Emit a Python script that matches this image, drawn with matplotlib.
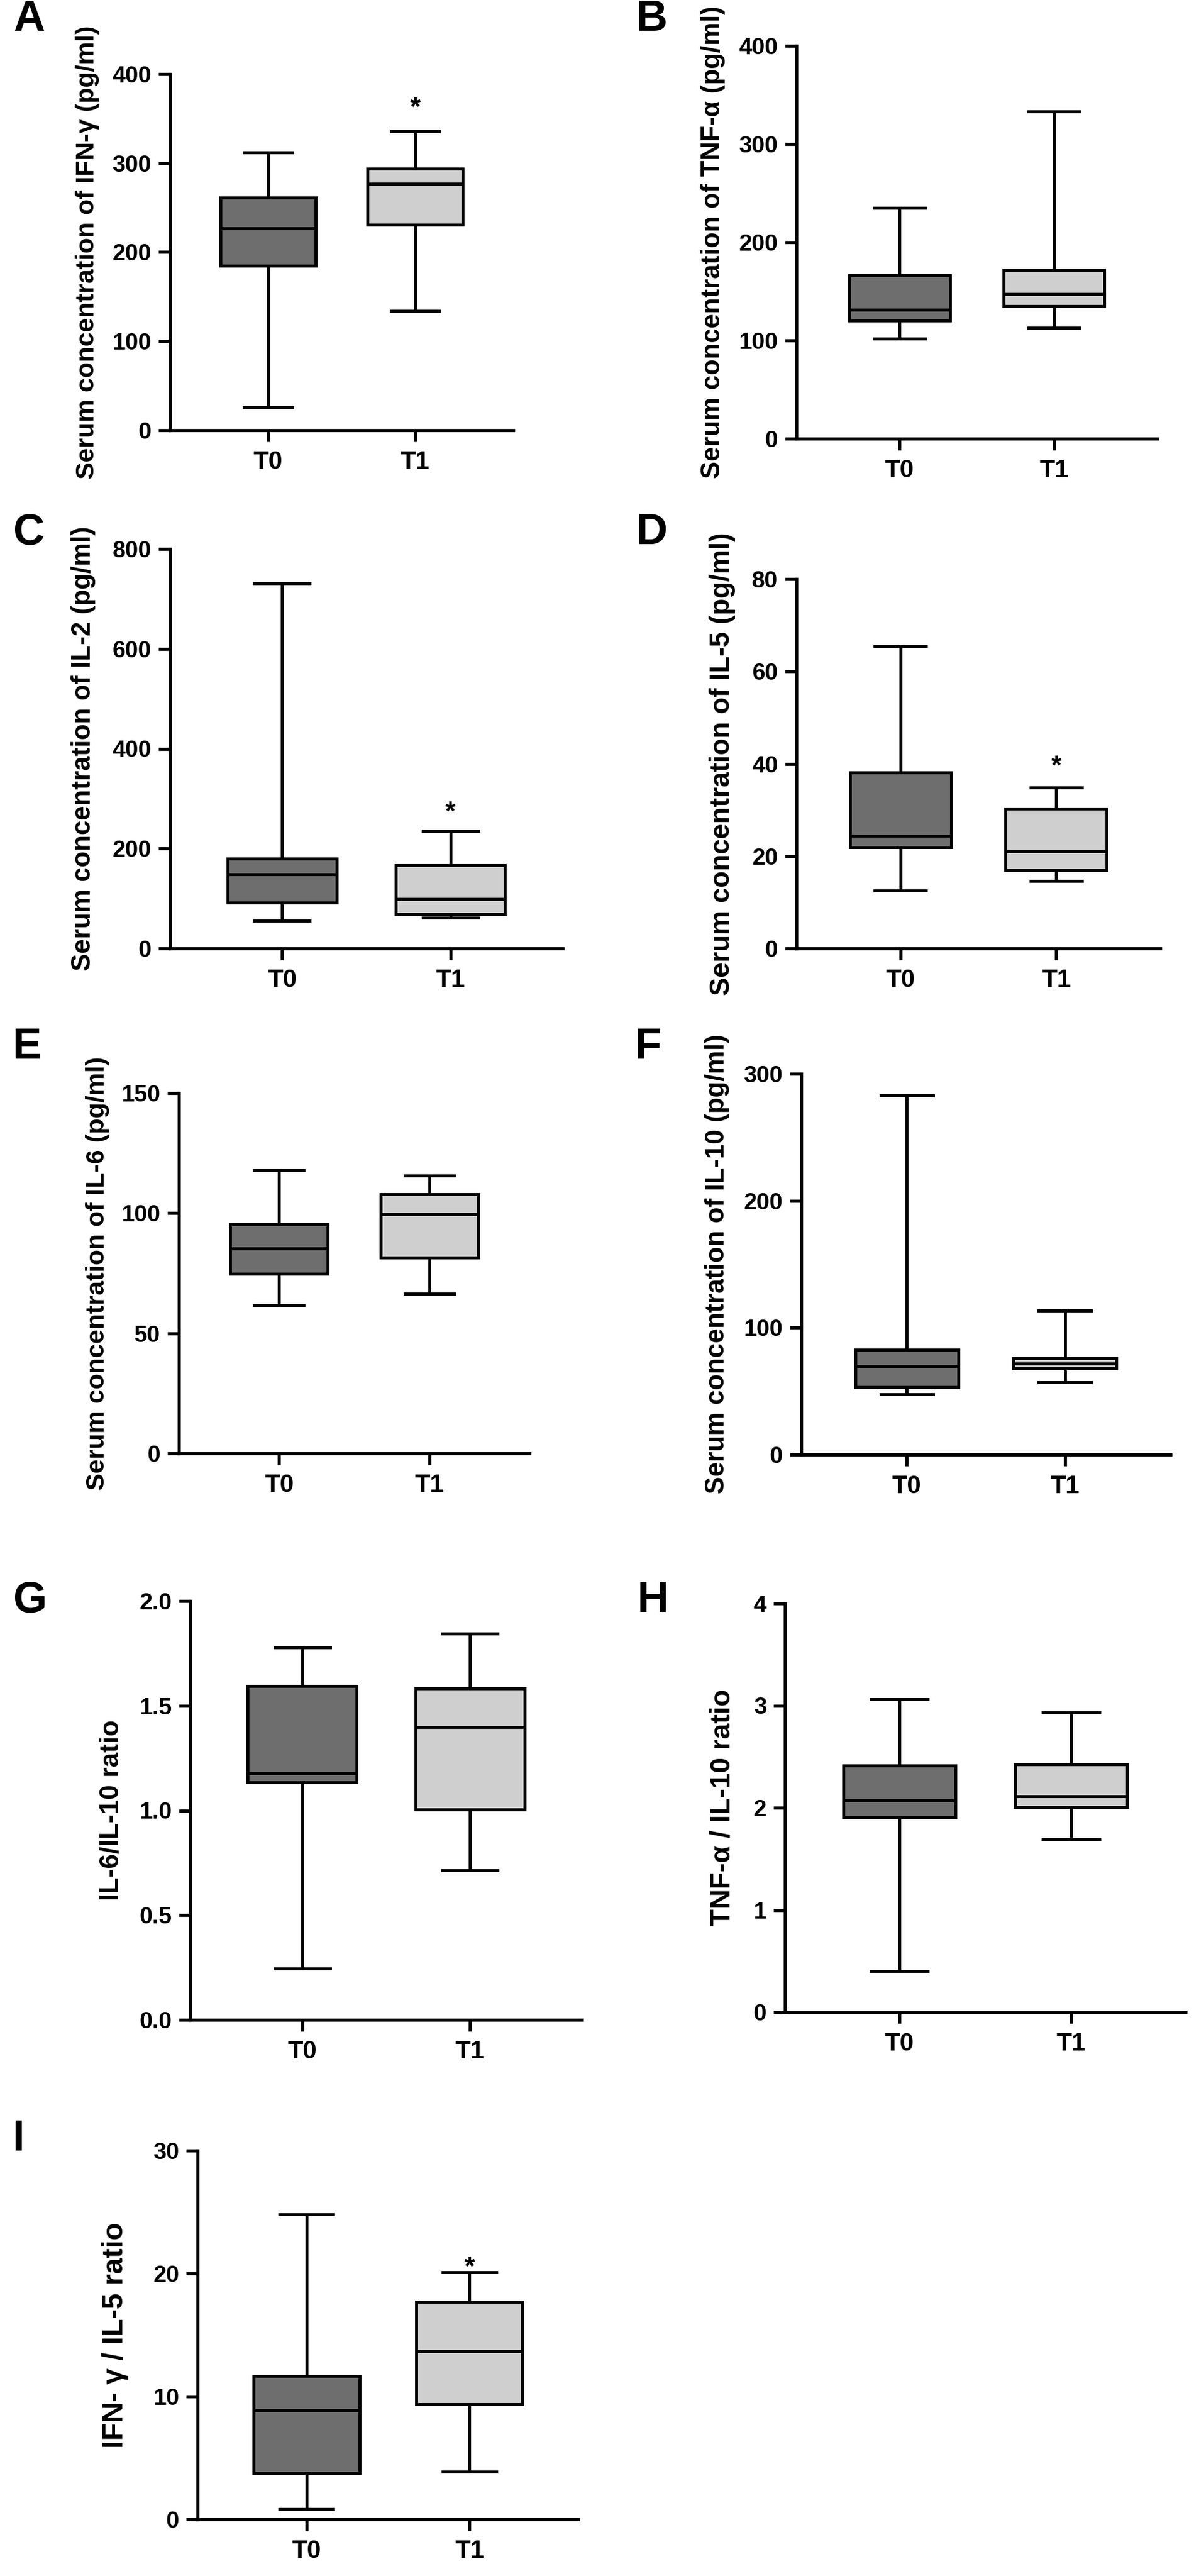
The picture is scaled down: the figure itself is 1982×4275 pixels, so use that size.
import matplotlib
matplotlib.use("Agg")
import matplotlib.pyplot as plt
from matplotlib.ticker import FormatStrFormatter
from matplotlib.transforms import offset_copy

plt.rcParams['font.family'] = ['Liberation Sans', 'DejaVu Sans']
plt.rcParams['font.weight'] = 'bold'

# ---------------- data (five-number summaries: whislo, q1, med, q3, whishi) -------------
groups = ["T0", "T1"]
panel_letters = ["A", "B", "C", "D", "E", "F", "G", "H", "I"]
ylabels = [
    "Serum concentration of IFN-γ (pg/ml)",
    "Serum concentration of TNF-α (pg/ml)",
    "Serum concentration of IL-2 (pg/ml)",
    "Serum concentration of IL-5 (pg/ml)",
    "Serum concentration of IL-6 (pg/ml)",
    "Serum concentration of IL-10 (pg/ml)",
    "IL-6/IL-10 ratio",
    "TNF-α / IL-10 ratio",
    "IFN- γ / IL-5 ratio",
]
ifng_t0 = [26, 185, 227, 261, 312]
ifng_t1 = [134, 231, 277, 294, 336]
tnfa_t0 = [102, 120, 131, 166, 235]
tnfa_t1 = [113, 135, 147, 172, 333]
il2_t0 = [55, 92, 148, 180, 731]
il2_t1 = [62, 69, 99, 167, 235]
il5_t0 = [12.5, 21.9, 24.4, 38.1, 65.5]
il5_t1 = [14.6, 17.0, 21.0, 30.3, 34.8]
il6_t0 = [61.8, 74.7, 85.2, 95.3, 118]
il6_t1 = [66.4, 81.5, 99.5, 107.8, 115.6]
il10_t0 = [47.4, 53.1, 69.8, 82.6, 283]
il10_t1 = [57.0, 67.9, 71.7, 76.0, 113.6]
il6_il10_t0 = [0.246, 1.134, 1.176, 1.593, 1.778]
il6_il10_t1 = [0.713, 1.003, 1.399, 1.582, 1.844]
tnfa_il10_t0 = [0.40, 1.907, 2.073, 2.415, 3.064]
tnfa_il10_t1 = [1.693, 2.006, 2.115, 2.425, 2.933]
ifng_il5_t0 = [0.82, 3.77, 8.86, 11.65, 24.8]
ifng_il5_t1 = [3.86, 9.35, 13.7, 17.7, 20.1]

series = [
    (ifng_t0, ifng_t1), (tnfa_t0, tnfa_t1), (il2_t0, il2_t1),
    (il5_t0, il5_t1), (il6_t0, il6_t1), (il10_t0, il10_t1),
    (il6_il10_t0, il6_il10_t1), (tnfa_il10_t0, tnfa_il10_t1),
    (ifng_il5_t0, ifng_il5_t1),
]
y_max = [400, 400, 800, 80, 150, 300, 2.0, 4, 30]
y_step = [100, 100, 200, 20, 50, 100, 0.5, 1, 10]
# significance marks: (panel index, group index, y value)
stars = [(0, 1, 370), (2, 1, 286), (3, 1, 40.9), (8, 1, 21.05)]

# ---------------- layout (pixels) ----------------
W, H = 1983, 4275
fig = plt.figure(figsize=(W / 100, H / 100), dpi=100)
fig.patch.set_facecolor("white")

# left, bottom, right, top in px (top-origin)
boxes_px = [
    (282, 714, 852, 123),
    (1322, 728, 1921, 76),
    (282, 1574, 934, 911),
    (1322, 1574, 1926, 961),
    (297, 2412, 879, 1814),
    (1330, 2414, 1943, 1782),
    (316, 3352, 966, 2657),
    (1303, 3339, 1968, 2661),
    (328, 4181, 960, 3569),
]
ylabel_x = [145, 1184, 139, 1199, 162, 1191, 186, 1200, 192]
ylabel_len = [752, 784, 737, 769, 720, 764, 300, 392, 375]   # rendered length in px
letter_pos = [(22, -2), (1055, -2), (22, 850), (1055, 850), (20, 1704), (1053, 1704),
              (22, 2622), (1057, 2622), (20, 3516)]

fills = ["#6e6e6e", "#cfcfcf"]
LW = 3.6

axes = []
for i, (l, b, r, t) in enumerate(boxes_px):
    ax = fig.add_axes([l / W, 1 - b / H, (r - l) / W, (b - t) / H])
    axes.append(ax)
    stats = []
    for g, vals in zip(groups, series[i]):
        lo, q1, med, q3, hi = vals
        stats.append(dict(label=g, whislo=lo, q1=q1, med=med, q3=q3, whishi=hi, fliers=[]))
    bp = ax.bxp(stats, positions=[0, 1], widths=0.65, patch_artist=True,
                showfliers=False, capwidths=0.33,
                boxprops=dict(linewidth=LW, edgecolor="black"),
                medianprops=dict(linewidth=LW, color="black"),
                whiskerprops=dict(linewidth=LW, color="black"),
                capprops=dict(linewidth=LW, color="black"))
    for patch, c in zip(bp["boxes"], fills):
        patch.set_facecolor(c)
    ax.set_xlim(-0.667, 1.667)
    ax.set_ylim(0, y_max[i])
    n = int(round(y_max[i] / y_step[i]))
    ax.set_yticks([k * y_step[i] for k in range(n + 1)])
    if i == 6:
        ax.yaxis.set_major_formatter(FormatStrFormatter("%.1f"))
    ax.set_xticks([0, 1])
    ax.set_xticklabels(groups)
    for s in ("top", "right"):
        ax.spines[s].set_visible(False)
    for s in ("left", "bottom"):
        ax.spines[s].set_linewidth(3.8)
    ax.tick_params(axis="both", length=14, width=3.8)
    ax.tick_params(axis="y", pad=8, labelsize=28)
    ax.tick_params(axis="x", pad=10, labelsize=30)
    for lab in ax.get_xticklabels() + ax.get_yticklabels():
        lab.set_fontweight("bold")
    ax.set_ylabel(ylabels[i], fontsize=30, fontweight="bold", ha="center", va="center")
    yc = 1 - ((b + t) / 2) / H
    ax.yaxis.set_label_coords(ylabel_x[i] / W, yc, transform=fig.transFigure)
    lx, ly = letter_pos[i]
    fig.text(lx / W, 1 - ly / H, panel_letters[i], fontsize=52, fontweight="bold",
             ha="left", va="top")

# fit y-label sizes to the lengths seen in the reference
renderer = fig.canvas.get_renderer()
for i, ax in enumerate(axes):
    lab = ax.yaxis.label
    ext = lab.get_window_extent(renderer)
    fs = lab.get_fontsize() * ylabel_len[i] / ext.height
    lab.set_fontsize(fs)

for (pi, gi, yv) in stars:
    ax = axes[pi]
    tr = offset_copy(ax.transData, fig=fig, x=0, y=-17, units="points")
    ax.text(gi, yv, "*", transform=tr, ha="center", va="baseline",
            fontsize=32, fontweight="bold")

fig.savefig("out.png", dpi=100, facecolor="white")
